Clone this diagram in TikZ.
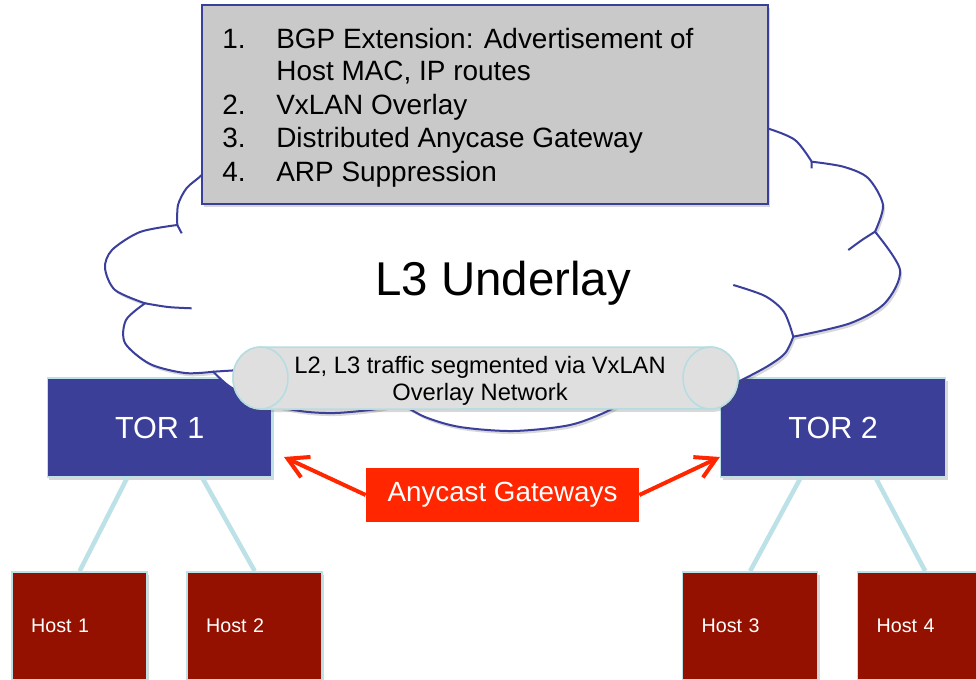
\documentclass[tikz,border=0pt]{standalone}
\usepackage{fontspec}
\setmainfont{Liberation Sans}
\usetikzlibrary{positioning,shadows,arrows.meta}

\definecolor{boxgray}{HTML}{C9C9C9}
\definecolor{lineblue}{HTML}{3B3F9C}
\definecolor{torblue}{HTML}{3C3F98}
\definecolor{hostred}{HTML}{941100}
\definecolor{gwred}{HTML}{FF2600}
\definecolor{linkcyan}{HTML}{BCE1E6}
\definecolor{tubegray}{HTML}{DFDFDF}
\definecolor{tubeedge}{HTML}{B5DDE1}

\begin{document}
\begin{tikzpicture}
[x=0.02cm, y=-0.02cm,
% STYLES
softshadow/.style={drop shadow={shadow xshift=0.04cm, shadow yshift=-0.06cm, opacity=0.22, fill=black!70}},
% The cloudline style is used to draw the underlay cloud
cloudline/.style={draw=lineblue, line width=0.04cm, fill=white},
% The listbox style is used to draw the grey feature box
listbox/.style={rectangle, draw=lineblue, line width=0.05cm, fill=boxgray, minimum width=11.32cm, minimum height=3.98cm},
listitem/.style={anchor=base west, inner sep=0pt, font=\fontsize{15.9}{19}\selectfont},
% The tube style is used to draw the overlay cylinder
tube/.style={draw=tubeedge, line width=0.03cm, fill=tubegray},
% The tor style is used to draw the top of rack switches
tor/.style={rectangle, draw=linkcyan, line width=0.03cm, fill=torblue, text=white, minimum width=4.5cm, minimum height=1.98cm, font=\fontsize{17.4}{20}\selectfont},
% The host style is used to draw the servers
host/.style={rectangle, draw=linkcyan, line width=0.03cm, fill=hostred, text=white, minimum height=2.17cm, text width=1.94cm, inner xsep=0.38cm, align=left, font=\fontsize{11.2}{13}\selectfont},
link/.style={draw=linkcyan, line width=0.09cm},
gw/.style={rectangle, fill=gwred, text=white, minimum width=5.46cm, minimum height=1.08cm, font=\fontsize{15.8}{18}\selectfont},
gwarrow/.style={draw=gwred, line width=0.08cm, -{Straight Barb[length=0.4cm, width=0.45cm]}}]

\useasboundingbox (0,0) rectangle (976,679);
\clip (0,0) rectangle (976,679);

% Draw switches
\node [tor, softshadow] (tor1) at (159.75,427.5) {TOR 1};
\node [tor, softshadow, right=8.94cm of tor1] (tor2) {TOR 2};

% CLOUD
\draw [cloudline, softshadow] (300,100) -- (215,158)
  -- plot[smooth] coordinates {(215,158) (201.7,175) (186.7,188) (178,205) (177.3,225)}
  -- plot[smooth] coordinates {(177.3,225) (140,232) (112,250) (105,268) (115,290) (145,303.3)}
  -- plot[smooth] coordinates {(145,303.3) (126,320) (125,343) (150,364) (185,373) (213.3,371.7)}
  -- plot[smooth] coordinates {(213.3,371.7) (230,386.7) (260,402) (300,411) (335,413) (377,409) (400,403)}
  -- plot[smooth] coordinates {(400,403) (425,417) (460,427) (513,431) (570,425) (610,410) (625,398)}
  -- plot[smooth] coordinates {(625,398) (670,400) (710,394) (735,383.3) (766.7,366.7) (785,353.3) (793.3,336.7)}
  -- plot[smooth] coordinates {(793.3,336.7) (850,323.3) (885,303) (900,270) (875,231.7)}
  -- plot[smooth] coordinates {(875,231.7) (883,205) (868,178) (843.3,166.7) (811.7,161.7)}
  -- plot[smooth] coordinates {(811.7,161.7) (795,140) (767.3,128.3) (745,124)}
  -- (700,100) -- cycle;
\draw [draw=lineblue, line width=0.04cm]
  (177.3,225) -- (181.7,233.3)
  plot[smooth] coordinates {(145,303.3) (168,307) (191.7,308.3)}
  (213.3,371.7) -- (240,370)
  plot[smooth] coordinates {(793.3,336.7) (784,312) (765,296) (733.3,285)}
  plot[smooth] coordinates {(875,231.7) (862,240) (848.3,250)}
  (811.7,161.7) -- (811.7,168.3);
\node [font=\fontsize{27}{31}\selectfont] (underlay) at (503,283) {L3 Underlay};

% Draw feature list
\node [listbox, softshadow] (features) at (485,104.5) {};
\node [listitem] (item1) at (222,48.3) {\makebox[1.08cm][l]{1.}BGP Extension: Advertisement of};
\node [listitem] (item1b) at (222,81) {\makebox[1.08cm][l]{}Host MAC, IP routes};
\node [listitem] (item2) at (222,114.3) {\makebox[1.08cm][l]{2.}VxLAN Overlay};
\node [listitem] (item3) at (222,147.6) {\makebox[1.08cm][l]{3.}Distributed Anycase Gateway};
\node [listitem] (item4) at (222,181.2) {\makebox[1.08cm][l]{4.}ARP Suppression};

% OVERLAY
\draw [tube, softshadow] (260.5,347) -- (710.5,347)
  arc[start angle=90, end angle=-90, x radius=0.55cm, y radius=0.62cm] -- (260.5,409)
  arc[start angle=270, end angle=90, x radius=0.55cm, y radius=0.62cm] -- cycle;
\draw [tube] (260.5,378) ellipse [x radius=0.55cm, y radius=0.62cm];
\draw [tube] (710.5,378) ellipse [x radius=0.55cm, y radius=0.62cm];
\node [align=center, font=\fontsize{13.5}{15.5}\selectfont] (overlay) at (480,380.5) {L2, L3 traffic segmented via VxLAN\\Overlay Network};

% Draw hosts
\node [host, softshadow] (host1) at (79.7,626) {Host 1};
\node [host, softshadow, right=0.77cm of host1] (host2) {Host 2};
\node [host, softshadow] (host3) at (750.2,626) {Host 3};
\node [host, softshadow, right=0.77cm of host3] (host4) {Host 4};

% Draw the links between switches and hosts
\path [link]
    ([xshift=-0.65cm]tor1.south) edge (host1.north)
    ([xshift=0.85cm]tor1.south) edge (host2.north)
    ([xshift=-0.65cm]tor2.south) edge (host3.north)
    ([xshift=0.85cm]tor2.south) edge (host4.north);

% GATEWAYS
\node [gw] (gw) at (502.5,495) {Anycast Gateways};
\draw [gwarrow] (gw.west) -- ([xshift=0.22cm, yshift=-0.59cm]tor1.east);
\draw [gwarrow] (gw.east) -- ([yshift=-0.59cm]tor2.west);

\end{tikzpicture}
\end{document}
